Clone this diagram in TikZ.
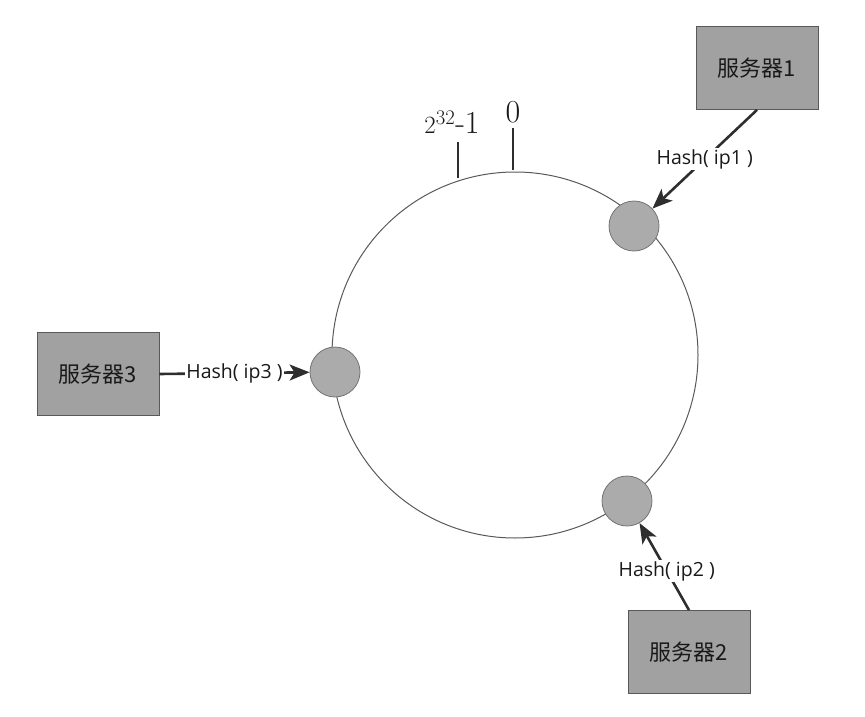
\documentclass[tikz,border=0pt]{standalone}
\usepackage{fontspec}
\newfontfamily\cjkfont{Noto Sans CJK SC}
\newfontfamily\hashfont{Open Sans}
\usetikzlibrary{arrows.meta,calc}

\begin{document}
\begin{tikzpicture}[x=1pt,y=-1pt,>={Stealth[length=20pt,width=16pt,inset=5pt]},
  server/.style={draw=black!65, line width=0.8pt, fill=black!37, minimum width=122pt, minimum height=83pt, font=\cjkfont\fontsize{22}{26}\selectfont, text=black!90},
  vnode/.style={draw=black!55, fill=black!33, circle, minimum size=50pt, inner sep=0pt, line width=0.8pt},
  lbl/.style={fill=white, inner sep=1.5pt, font=\hashfont\fontsize{19.5}{23}\selectfont, text=black!90},
  ringlbl/.style={inner sep=0pt, anchor=south, font=\fontsize{32}{37}\selectfont, text=black!90},
  conn/.style={->, line width=2.6pt, draw=black!82},
  tick/.style={line width=2pt, draw=black!82}]
  \useasboundingbox (0,0) rectangle (865,717);
  % the hash ring
  \coordinate (ring) at (515,355);
  \draw[black!65, line width=1pt] (ring) circle (183pt);
  \coordinate (t0) at (513,170);
  \coordinate (t0top) at (513,128);
  \coordinate (tmax) at (458,178);
  \coordinate (tmaxtop) at (458,142);
  \draw[tick] (t0) -- (t0top);
  \draw[tick] (tmax) -- (tmaxtop);
  \node[ringlbl] (zero) at (513,123) {0};
  \node[ringlbl] (max) at (452,134) {$2^{32}$-1};
  % points on the ring
  \node[vnode] (n1) at (634,226) {};
  \node[vnode] (n2) at (627,501) {};
  \node[vnode] (n3) at (335,372) {};
  % servers
  \node[server] (s1) at (757,68) {服务器1};
  \node[server] (s2) at (689,652) {服务器2};
  \node[server] (s3) at (98,374) {服务器3};
  \draw[conn] (s1.south) -- node[lbl] {Hash( ip1 )} (n1);
  \draw[conn] (s2.north) -- node[lbl, pos=0.45] {Hash( ip2 )} (n2);
  \draw[conn] (s3.east) -- node[lbl] {Hash( ip3 )} (n3);
\end{tikzpicture}
\end{document}
